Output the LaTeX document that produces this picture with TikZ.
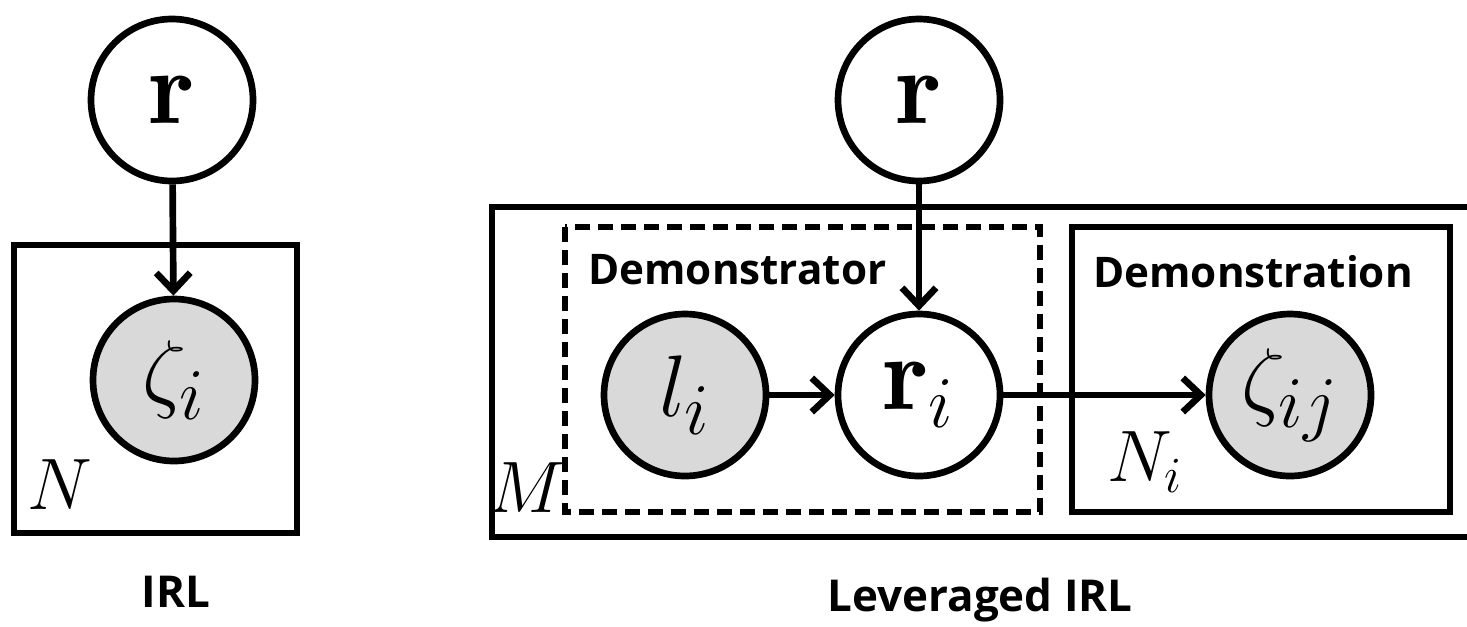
\documentclass[tikz,border=0pt]{standalone}
\usepackage{amsmath}
\usepackage{fontspec}
\setsansfont{Open Sans}
\usepackage{tikz}
\usetikzlibrary{arrows.meta,automata,positioning}

\begin{document}
\begin{tikzpicture}[->, >={Straight Barb[length=1.8mm,width=3.4mm]}, line width=1.9pt,
  every state/.style={minimum size=16.2mm, inner sep=0pt, line width=1.9pt, font=\fontsize{30}{34}\selectfont},
  obs/.style={fill=black!15},
  plate/.style={draw, -, line width=1.9pt},
  platelabel/.style={font=\fontsize{21}{24}\selectfont},
  title/.style={anchor=west, inner sep=0pt, font=\sffamily\bfseries\fontsize{12}{14}\selectfont},
  caption/.style={font=\sffamily\bfseries\fontsize{12.5}{15}\selectfont}]
\path[use as bounding box] (0,0) rectangle (14.67,-6.26);
% IRL
\node[state] (R) at (1.72,-1.00) {$\mathbf{r}$};
\node[state, obs] (Z) at (1.74,-3.80) {$\zeta_i$};
\draw[plate] (0.14,-2.45) rectangle (2.97,-5.33);
\node[platelabel] (N) at (0.60,-4.85) {$N$};
\node[caption] (cIRL) at (1.76,-5.92) {IRL};
\draw (R) -- (Z);
% Leveraged IRL
\node[state] (R2) at (9.19,-1.00) {$\mathbf{r}$};
\node[state, obs] (L) at (6.85,-3.95) {$l_i$};
\node[state] (Ri) at (9.19,-3.95) {$\mathbf{r}_i$};
\node[state, obs] (Zij) at (12.90,-3.95) {$\zeta_{ij}$};
\draw[plate] (14.90,-2.07) -- (4.92,-2.07) -- (4.92,-5.37) -- (14.90,-5.37);
\draw[plate, dash pattern=on 1.5mm off 0.8mm] (5.65,-2.27) rectangle (10.40,-5.12);
\draw[plate] (10.72,-2.27) rectangle (14.50,-5.12);
\node[title] (tDemonstrator) at (5.85,-2.70) {Demonstrator};
\node[title] (tDemonstration) at (10.90,-2.72) {Demonstration};
\node[platelabel] (M) at (5.27,-4.88) {$M$};
\node[platelabel] (Ni) at (11.45,-4.62) {$N_i$};
\node[caption] (cLev) at (9.80,-6.00) {Leveraged IRL};
\draw (R2) -- (Ri);
\draw (L) -- (Ri);
\draw (Ri) -- (Zij);
\end{tikzpicture}
\end{document}
